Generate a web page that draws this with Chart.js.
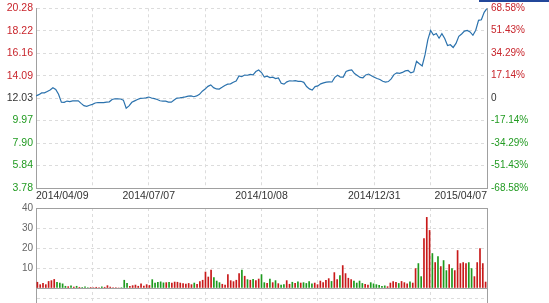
<!DOCTYPE html>
<html>
<head>
<meta charset="utf-8">
<script src="https://cdn.jsdelivr.net/npm/chart.js@4.4.0/dist/chart.umd.min.js"></script>
<style>
    body { margin: 0; background: #fff; width: 549px; height: 303px; overflow: hidden; position: relative; }
    #priceChart { position: absolute; left: 0; top: 0; }
    #volChart { position: absolute; left: 0; top: 200px; }
    #tab { position: absolute; left: 479px; top: 0; width: 70px; height: 2px; background: #23479a; }
</style>
</head>
<body>
<div id="tab"></div>
<canvas id="priceChart" width="549" height="205"></canvas>
<canvas id="volChart" width="549" height="112"></canvas>
<script>
// closing price, one value per sample from 2014/04/09 to 2015/04/07
const closePrices = [
    12.24, 12.35, 12.51, 12.51, 12.64, 12.77, 12.98, 12.82, 12.38, 11.65,
    11.64, 11.76, 11.71, 11.78, 11.77, 11.78, 11.55, 11.34, 11.28, 11.38,
    11.46, 11.58, 11.63, 11.62, 11.62, 11.67, 11.69, 11.91, 11.97, 11.97,
    11.95, 11.85, 11.11, 11.32, 11.65, 11.78, 11.91, 12.01, 12.02, 12.05,
    12.13, 12.04, 11.98, 11.90, 11.79, 11.75, 11.76, 11.66, 11.66, 11.85,
    12.03, 12.06, 12.10, 12.15, 12.22, 12.23, 12.16, 12.23, 12.38, 12.67,
    12.86, 13.11, 13.24, 12.99, 12.87, 12.86, 13.02, 13.19, 13.31, 13.34,
    13.49, 13.60, 14.06, 14.00, 14.15, 14.13, 14.21, 14.17, 14.47, 14.61,
    14.38, 13.97, 14.05, 13.92, 13.95, 13.82, 13.89, 13.39, 13.31, 13.52,
    13.62, 13.60, 13.63, 13.57, 13.58, 13.48, 13.09, 12.88, 12.77, 13.09,
    13.15, 13.34, 13.43, 13.50, 13.52, 13.51, 13.94, 14.13, 13.95, 13.96,
    14.47, 14.58, 14.62, 14.28, 14.11, 13.93, 13.90, 14.16, 14.24, 14.09,
    13.94, 13.83, 13.74, 13.58, 13.50, 13.55, 13.80, 14.19, 14.35, 14.30,
    14.39, 14.53, 14.57, 14.35, 14.44, 15.40, 15.19, 14.99, 16.00, 17.37,
    18.25, 17.83, 17.96, 17.53, 17.95, 17.51, 16.86, 16.93, 16.68, 17.05,
    17.70, 17.92, 18.18, 18.25, 18.11, 17.80, 18.26, 19.17, 19.22, 19.90,
    20.26
];

const volumes = [
    3.2, 2.0, 2.6, 2.0, 3.6, 4.0, 4.6, 3.2, 2.8, 2.4,
    1.2, 1.0, 1.4, 0.8, 1.2, 0.7, 0.6, 0.9, 0.5, 0.6,
    0.5, 0.7, 0.6, 0.9, 0.7, 1.5, 0.8, 0.6, 0.5, 0.4,
    0.5, 4.2, 2.6, 1.2, 1.5, 1.8, 1.2, 2.4, 1.3, 2.0,
    1.6, 4.5, 2.8, 3.2, 3.4, 2.9, 3.0, 3.1, 2.8, 3.3,
    3.2, 2.8, 2.5, 2.3, 2.6, 2.0, 2.8, 2.2, 3.5, 4.2,
    8.3, 5.8, 9.2, 5.5, 3.8, 3.0, 2.2, 1.8, 7.0, 4.0,
    3.5, 4.2, 7.5, 9.2, 6.2, 4.5, 4.2, 4.6, 4.0, 4.8,
    7.0, 3.0, 2.6, 4.8, 3.0, 4.0, 2.5, 1.8, 2.0, 4.0,
    2.2, 3.2, 2.6, 3.4, 2.8, 3.0, 2.6, 3.5, 2.4, 2.8,
    2.0, 3.8, 3.0, 4.2, 5.0, 3.6, 8.0, 4.5, 6.5, 11.5,
    7.5, 5.2, 4.5, 3.8, 2.8, 3.8, 2.6, 2.2, 1.8, 3.0,
    2.4, 2.0, 1.7, 1.2, 1.4, 1.0, 2.8, 3.5, 3.2, 2.6,
    3.6, 3.0, 2.4, 3.4, 2.8, 10.0, 12.5, 6.0, 25.0, 35.5,
    29.0, 17.5, 13.0, 16.0, 11.0, 14.0, 9.0, 12.0, 10.0, 9.0,
    19.0, 12.5, 13.0, 12.5, 13.0, 10.0, 6.0, 13.0, 20.0, 12.5,
    3.3
];

const dateTicks = ['2014/04/09', '2014/07/07', '2014/10/08', '2014/12/31', '2015/04/07'];
const priceTicks = ['3.78', '5.84', '7.90', '9.97', '12.03', '14.09', '16.16', '18.22', '20.28'];
const pctTicks = ['-68.58%', '-51.43%', '-34.29%', '-17.14%', '0', '17.14%', '34.29%', '51.43%', '68.58%'];
const volTicks = [10, 20, 30, 40];
const basePrice = 12.03;

const UP = '#c81a1a';
const DOWN = '#1e9a1e';
const LABEL_UP = '#c8252c';
const LABEL_DOWN = '#229b22';
const TEXT = '#333333';
const GRID = '#dcdcdc';
const AXIS = '#a0a0a0';
const CLEAR = 'rgba(0,0,0,0)';

Chart.defaults.font.family = 'Arial, "Liberation Sans", sans-serif';
Chart.defaults.animation = false;

// 8 equal divisions across the plot, like the original grid
function divisionTicks(scale) {
    const step = (scale.max - scale.min) / 8;
    const ticks = [];
    for (let k = 0; k <= 8; k++) ticks.push({ value: scale.min + k * step });
    scale.ticks = ticks;
}
const edgeGrid = ctx => (ctx.index === 0 || ctx.index === 8) ? CLEAR : GRID;

function signColor(value, base) {
    if (value > base + 1e-6) return LABEL_UP;
    if (value < base - 1e-6) return LABEL_DOWN;
    return TEXT;
}

const volColors = closePrices.map((v, i) => (i === 0 || v >= closePrices[i - 1]) ? UP : DOWN);

new Chart(document.getElementById('priceChart'), {
    type: 'line',
    data: {
        datasets: [{
            data: closePrices.map((v, i) => ({ x: i, y: v })),
            borderColor: '#2b72ad',
            borderWidth: 1.2,
            pointRadius: 0,
            tension: 0,
            fill: false
        }]
    },
    options: {
        responsive: false,
        animation: false,
        layout: { padding: { top: 8, left: 0, right: 0, bottom: 0 } },
        plugins: { legend: { display: false }, tooltip: { enabled: false } },
        scales: {
            x: {
                type: 'linear',
                min: 0,
                max: closePrices.length - 1,
                afterBuildTicks: divisionTicks,
                afterFit: s => { s.height = 17; },
                grid: { color: edgeGrid, drawTicks: false },
                border: { display: true, color: AXIS, dash: [3, 3] },
                ticks: {
                    autoSkip: false, maxRotation: 0, minRotation: 0, align: 'inner',
                    padding: 2, color: TEXT, font: { size: 10.5 },
                    callback: (v, i) => i % 2 === 0 ? dateTicks[i / 2] : ''
                }
            },
            y: {
                position: 'left',
                min: Number(priceTicks[0]),
                max: Number(priceTicks[priceTicks.length - 1]),
                afterBuildTicks: s => { s.ticks = priceTicks.map(t => ({ value: Number(t) })); },
                afterFit: s => { s.width = 36; },
                grid: { color: ctx => ctx.index === 0 ? CLEAR : GRID, drawTicks: false },
                border: { display: true, color: AXIS, dash: [3, 3] },
                ticks: {
                    autoSkip: false, padding: 3, font: { size: 10.5, lineHeight: 1 },
                    color: ctx => signColor(ctx.tick.value, basePrice),
                    callback: (v, i) => priceTicks[i]
                }
            },
            yR: {
                position: 'right',
                min: parseFloat(pctTicks[0]),
                max: parseFloat(pctTicks[pctTicks.length - 1]),
                afterBuildTicks: s => { s.ticks = pctTicks.map(t => ({ value: parseFloat(t) })); },
                afterFit: s => { s.width = 62; },
                grid: { display: false, drawTicks: false },
                border: { display: true, color: AXIS },
                ticks: {
                    autoSkip: false, padding: 4, font: { size: 10, lineHeight: 0.8 },
                    color: ctx => signColor(ctx.tick.value, 0),
                    callback: (v, i) => pctTicks[i]
                }
            }
        }
    }
});

const solidVolLine = ctx => ctx.tick && (ctx.tick.value === 0 || ctx.tick.value === 40);

new Chart(document.getElementById('volChart'), {
    type: 'bar',
    data: {
        datasets: [{
            data: volumes.map((v, i) => ({ x: i, y: v })),
            backgroundColor: volColors,
            barPercentage: 0.6,
            categoryPercentage: 1
        }]
    },
    options: {
        responsive: false,
        animation: false,
        layout: { padding: { top: 8, left: 0, right: 0, bottom: 0 } },
        plugins: { legend: { display: false }, tooltip: { enabled: false } },
        scales: {
            x: {
                type: 'linear',
                offset: false,
                min: -0.5,
                max: volumes.length - 0.5,
                afterBuildTicks: divisionTicks,
                afterFit: s => { s.height = 0; },
                grid: { color: edgeGrid, drawTicks: false, offset: false },
                border: { display: false, dash: [3, 3] },
                ticks: { display: false }
            },
            y: {
                position: 'left',
                min: -7.8,
                max: 40,
                afterBuildTicks: s => { s.ticks = [-5, 0].concat(volTicks).map(v => ({ value: v })); },
                afterFit: s => { s.width = 36; },
                grid: { color: ctx => solidVolLine(ctx) ? AXIS : GRID, drawTicks: false },
                border: { display: true, color: AXIS, dash: ctx => solidVolLine(ctx) ? [] : [3, 3] },
                ticks: {
                    autoSkip: false, padding: 3, color: '#666', font: { size: 10, lineHeight: 1 },
                    callback: v => v > 0 ? String(v) : ''
                }
            },
            yR: {
                position: 'right',
                min: -7.8,
                max: 40,
                afterFit: s => { s.width = 62; },
                grid: { display: false, drawTicks: false },
                border: { display: true, color: AXIS },
                ticks: { display: false, font: { size: 10, lineHeight: 1 } }
            }
        }
    }
});
</script>
</body>
</html>
